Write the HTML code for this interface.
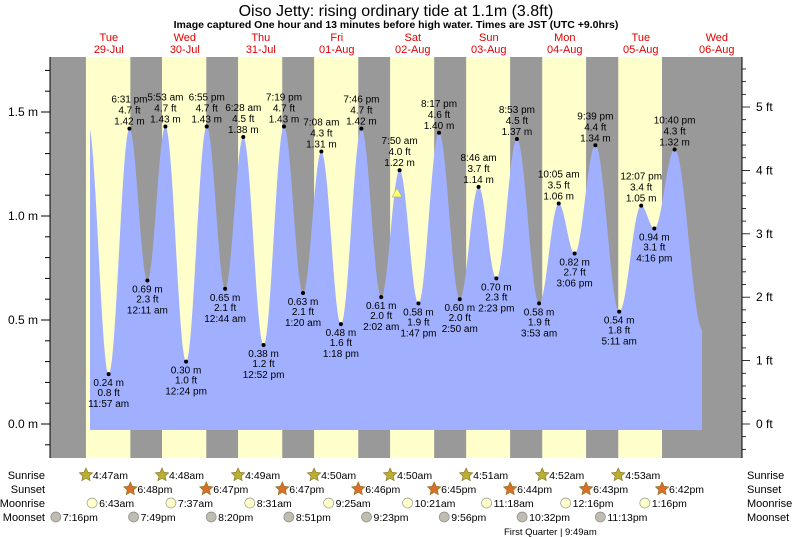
<!DOCTYPE html>
<html><head><meta charset="utf-8"><style>
body{margin:0;background:#fff;}
svg{display:block;font-family:"Liberation Sans",sans-serif;}
</style></head><body>
<svg id="s" width="793" height="537" viewBox="0 0 793 537" xmlns="http://www.w3.org/2000/svg">
<text x="396" y="16" font-size="16" text-anchor="middle">Oiso Jetty: rising  ordinary tide at 1.1m (3.8ft)</text>
<text x="396" y="28" font-size="10.5" font-weight="bold" text-anchor="middle">Image captured One hour and 13 minutes before high water. Times are JST (UTC +9.0hrs)</text>
<g id="g"></g>
</svg>
<script>
var NS="http://www.w3.org/2000/svg",g=document.getElementById('g');
function el(t,a,txt){var e=document.createElementNS(NS,t);for(var k in a)e.setAttribute(k,a[k]);if(txt!=null)e.textContent=txt;g.appendChild(e);return e;}
var X0=70.8,DAY=76,T=57,B=458,L=50,R=742;
function X(d,h){return X0+(d+h/24)*DAY;}
function Y(m){return 424-m*208;}
el('rect',{x:L,y:T,width:R-L,height:B-T,fill:'#999999'});
var sr=[4.78,4.8,4.82,4.83,4.83,4.85,4.87,4.88],ss=[18.8,18.78,18.78,18.77,18.75,18.73,18.72,18.7];
for(var d=0;d<8;d++){var a=X(d,sr[d]),b=X(d,ss[d]);el('rect',{x:a,y:T,width:b-a,height:B-T,fill:'#ffffcc'});}
var td=[[0,5.5,1.44,1],[0,11.95,0.24,0],[0,18.52,1.42,1],[1,0.18,0.69,0],[1,5.88,1.43,1],[1,12.4,0.30,0],[1,18.92,1.43,1],[2,0.73,0.65,0],[2,6.47,1.38,1],[2,12.87,0.38,0],[2,19.32,1.43,1],[3,1.33,0.63,0],[3,7.13,1.31,1],[3,13.3,0.48,0],[3,19.77,1.42,1],[4,2.03,0.61,0],[4,7.83,1.22,1],[4,13.78,0.58,0],[4,20.28,1.40,1],[5,2.83,0.60,0],[5,8.77,1.14,1],[5,14.38,0.70,0],[5,20.88,1.37,1],[6,3.88,0.58,0],[6,10.08,1.06,1],[6,15.1,0.82,0],[6,21.65,1.34,1],[7,5.18,0.54,0],[7,12.12,1.05,1],[7,16.27,0.94,0],[7,22.67,1.32,1],[8,7.6,0.45,0]];
var tl=['','11:57 am','6:31 pm','12:11 am','5:53 am','12:24 pm','6:55 pm','12:44 am','6:28 am','12:52 pm','7:19 pm','1:20 am','7:08 am','1:18 pm','7:46 pm','2:02 am','7:50 am','1:47 pm','8:17 pm','2:50 am','8:46 am','2:23 pm','8:53 pm','3:53 am','10:05 am','3:06 pm','9:39 pm','5:11 am','12:07 pm','4:16 pm','10:40 pm'];
var pts=td.map(function(t){return [X(t[0],t[1]),t[2]];});
var x1=90,x2=702,p='M'+x1+','+430;
for(var x=x1;x<=x2;x+=0.5){var i=0;while(i<pts.length-2&&pts[i+1][0]<x)i++;var A=pts[i],Bp=pts[i+1];var f=(x-A[0])/(Bp[0]-A[0]);var h=A[1]+(Bp[1]-A[1])*(1-Math.cos(Math.PI*f))/2;p+=' L'+x.toFixed(1)+','+Y(h).toFixed(1);}
p+=' L'+x2+',430Z';
el('path',{d:p,fill:'#a0b0ff'});
for(var i=1;i<td.length-1;i++){var x=pts[i][0],y=Y(td[i][2]),m=td[i][2].toFixed(2)+' m',ft=(td[i][2]/0.3048).toFixed(1)+' ft';
el('circle',{cx:x,cy:y,r:2,fill:'#000'});
var ls=td[i][3]?[[tl[i],-26],[ft,-15],[m,-4]]:[[m,12],[ft,22],[tl[i],33]];
ls.forEach(function(l){el('text',{x:x,y:y+l[1],'font-size':10,'text-anchor':'middle'},l[0]);});}
el('polygon',{points:'397,188 392,197 402,197',fill:'#ffff66',stroke:'#999','stroke-width':0.5});
el('line',{x1:L,y1:T,x2:L,y2:B,stroke:'#000'});el('line',{x1:R,y1:T,x2:R,y2:B,stroke:'#000'});
for(var v=-0.1;v<=1.75;v+=0.1){var y=Y(v);if(y<T||y>B)continue;el('line',{x1:L-5,y1:y,x2:L,y2:y,stroke:'#000'});}
[0,0.5,1.0,1.5].forEach(function(v){el('line',{x1:L-9,y1:Y(v),x2:L,y2:Y(v),stroke:'#000'});el('text',{x:38,y:Y(v)+4,'font-size':12,'text-anchor':'end'},v.toFixed(1)+' m');});
for(var k=-2;k<=28;k++){var f=k*0.2;var y=Y(f*0.3048);if(y<T||y>B)continue;var maj=(k%5==0);el('line',{x1:R,y1:y,x2:R+(maj?8:4),y2:y,stroke:'#000','stroke-width':0.8});if(maj&&f>=0)el('text',{x:756,y:y+4,'font-size':12},Math.round(f)+' ft');}
var dn=['Tue','Wed','Thu','Fri','Sat','Sun','Mon','Tue','Wed'],dt=['29-Jul','30-Jul','31-Jul','01-Aug','02-Aug','03-Aug','04-Aug','05-Aug','06-Aug'];
for(var d=0;d<9;d++){var x=X(d,12);el('text',{x:x,y:41,'font-size':11,fill:'#e00000','text-anchor':'middle'},dn[d]);el('text',{x:x,y:53,'font-size':11,fill:'#e00000','text-anchor':'middle'},dt[d]);}
var rows=[['Sunrise',479],['Sunset',493],['Moonrise',507],['Moonset',521]];
rows.forEach(function(r){el('text',{x:45,y:r[1],'font-size':11,'text-anchor':'end'},r[0]);el('text',{x:747,y:r[1],'font-size':11},r[0]);});
function star(cx,cy,fill){var s='';for(var k=0;k<10;k++){var a=-Math.PI/2+k*Math.PI/5,rr=k%2?3.3:7;s+=(cx+rr*Math.cos(a)).toFixed(1)+','+(cy+rr*Math.sin(a)).toFixed(1)+' ';}el('polygon',{points:s,fill:fill,stroke:'#8a6a20','stroke-width':0.6});}
var srt=['4:47am','4:48am','4:49am','4:50am','4:50am','4:51am','4:52am','4:53am'],sst=['6:48pm','6:47pm','6:47pm','6:46pm','6:45pm','6:44pm','6:43pm','6:42pm'];
var mr=['6:43am','7:37am','8:31am','9:25am','10:21am','11:18am','12:16pm','1:16pm'],ms=['7:16pm','7:49pm','8:20pm','8:51pm','9:23pm','9:56pm','10:32pm','11:13pm'];
for(var d=0;d<8;d++){var x=X(d,sr[d]);star(x,475,'#b8b030');el('text',{x:x+7,y:479,'font-size':10.5},srt[d]);
x=X(d,ss[d]);star(x,489,'#d87028');el('text',{x:x+7,y:493,'font-size':10.5},sst[d]);
x=X(d,[6.72,7.62,8.52,9.42,10.35,11.3,12.27,13.27][d]);el('circle',{cx:x,cy:503,r:5,fill:'#ffffc8',stroke:'#999','stroke-width':0.7});el('text',{x:x+7,y:507,'font-size':10.5},mr[d]);
x=X(d-1,[19.27,19.82,20.33,20.85,21.38,21.93,22.53,23.22][d]);el('circle',{cx:x,cy:517,r:5,fill:'#c0bcb0',stroke:'#888','stroke-width':0.7});el('text',{x:x+7,y:521,'font-size':10.5},ms[d]);}
el('text',{x:504,y:535,'font-size':9.5},'First Quarter | 9:49am');
</script>
</body></html>
